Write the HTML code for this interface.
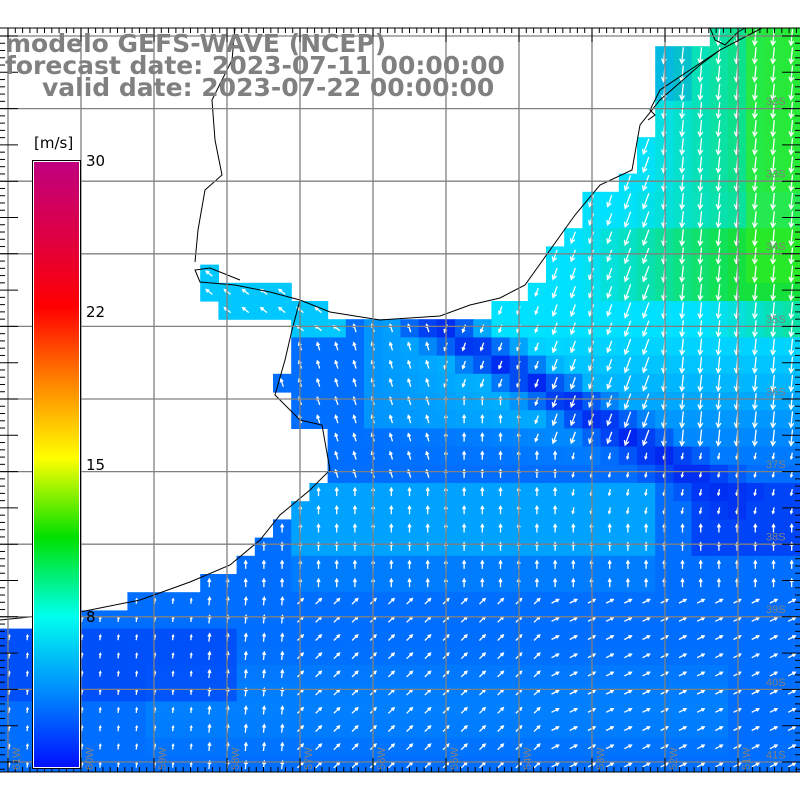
<!DOCTYPE html>
<html><head><meta charset="utf-8"><style>
body{margin:0;background:#fff;width:800px;height:800px;overflow:hidden;font-family:"Liberation Sans",sans-serif}
svg{position:absolute;left:0;top:0}
</style></head><body>
<svg id="s" width="800" height="800" viewBox="0 0 800 800"></svg>
<script>
const NS="http://www.w3.org/2000/svg",s=document.getElementById('s');
function el(t,a,p){const e=document.createElementNS(NS,t);for(const k in a)e.setAttribute(k,a[k]);(p||s).appendChild(e);return e}
const T=28,B=772,C=18.2;
const land=[[0,28],[710,28],[710,45],[660,45],[660,100],[655,100],[655,135],[637,135],[637,172],[620,172],[620,190],[585,190],[585,226],[565,226],[565,245],[545,245],[545,282],[528,282],[528,300],[495,300],[495,318],[330,318],[330,300],[300,300],[300,285],[220,285],[220,265],[200,265],[200,300],[220,300],[220,318],[290,318],[290,375],[275,375],[275,400],[290,400],[290,420],[325,420],[325,480],[310,480],[310,500],[295,500],[295,520],[265,520],[265,540],[255,540],[255,555],[235,555],[235,575],[200,575],[200,592],[130,592],[130,610],[80,610],[80,627],[0,627]];
function inPoly(x,y,p){let c=false;for(let i=0,j=p.length-1;i<p.length;j=i++){const a=p[i],b=p[j];if((a[1]>y)!=(b[1]>y)&&x<(b[0]-a[0])*(y-a[1])/(b[1]-a[1])+a[0])c=!c}return c}
function mix(a,b,t){t=Math.max(0,Math.min(1,t));return a.map((v,i)=>Math.round(v+(b[i]-v)*t))}
function sm(e0,e1,v){return Math.max(0,Math.min(1,(v-e0)/(e1-e0)))}
function col(x,y){
 let c=[0,110,255];
 if(y<335&&x<340)c=[0,200,255];
 if(x>370&&x<560&&y>320&&y<420)c=mix(c,[0,170,255],0.6);
 let t=sm(360,560,x)*sm(470,330,y);c=mix(c,[0,225,255],t);
 if(y<330&&x>480)c=mix(c,[0,225,255],1);
 if(y<100&&x<700)c=mix(c,[0,160,255],0.7);
 let g=0;
 if(y<190)g=sm(640,780,x)*0.85;
 else if(y<220)g=sm(620,760,x)*0.6;
 else if(y<300)g=sm(580,740,x);
 else if(y<340)g=sm(700,800,x)*0.5;
 c=mix(c,[20,225,60],g);
 if(x>755&&y<290)c=mix(c,[60,240,20],0.5);
 if(y>480&&y<560&&x>300&&x<660)c=mix(c,[0,175,255],0.8);
 if(y>560&&y<600&&x>300&&x<650)c=mix(c,[0,140,255],0.5);
 if(y>650&&y<760&&x>150&&x<720)c=mix(c,[0,145,255],0.5*Math.sin((y-650)/110*3.14));
 const ax=430,ay=322,bx=720,by=490;let dx=bx-ax,dy=by-ay,u=((x-ax)*dx+(y-ay)*dy)/(dx*dx+dy*dy);
 if(u>-0.05&&u<1.1){let px=ax+u*dx,py=ay+u*dy,d=Math.hypot(x-px,y-py);if(d<26)c=mix(c,[0,35,240],1-d/30);}
 if(x>690&&y>480&&y<560)c=mix(c,[0,50,245],0.7);
 if(x<230&&y>620&&y<700)c=mix(c,[0,60,245],0.6);
 return 'rgb('+c.join(',')+')';
}
const g=el('g',{});
for(let i=0;i*C<800;i++)for(let j=0;T+j*C<B;j++){
 const x=i*C,y=T+j*C,cx=x+C/2,cy=y+C/2;
 if(inPoly(cx,cy,land))continue;
 el('rect',{x:x,y:y,width:C+0.6,height:Math.min(C+0.6,B-y),fill:col(cx,cy)},g);
}
const ag=el('g',{stroke:'#fff','stroke-width':1.3,fill:'none'});
for(let i=0;i<44;i++)for(let j=0;j<41;j++){
 const cx=i*C+C/2,cy=T+j*C+C/2;if(cy>B-4)continue;
 if(inPoly(cx,cy,land))continue;
 let ang,len;
 if(cy<340&&cx<340){ang=-Math.PI/2-0.9;len=8;}
 else if(cy<300||(cy<440&&cx>520)||(cy<400&&cx>430)){ang=Math.PI/2+0.35-(cx>650?0.25:0);len=cx>620?16:(cx>540?12:8);}
 else if(cy<480&&cx<430){ang=-Math.PI/2-0.3;len=8;}
 else if(cy<520&&cx>560){ang=Math.PI/2+0.2;len=6;}
 else if(cy<600){ang=-Math.PI/2;len=8;}
 else{ang=-Math.PI/2+(cx>300?0.8:0.1)+(cx>550?0.3:0);len=cx<200?5:8;}
 const ex=cx+Math.cos(ang)*len/2,ey=cy+Math.sin(ang)*len/2,sx=cx-Math.cos(ang)*len/2,sy=cy-Math.sin(ang)*len/2;
 const h=Math.min(5,len*0.4);
 el('path',{d:`M${sx} ${sy}L${ex} ${ey}M${ex-h*Math.cos(ang-0.5)} ${ey-h*Math.sin(ang-0.5)}L${ex} ${ey}L${ex-h*Math.cos(ang+0.5)} ${ey-h*Math.sin(ang+0.5)}`},ag);
}
const cs={fill:'none',stroke:'#000','stroke-width':1};
el('polyline',Object.assign({points:'762,28 720,50 700,65 660,100 640,125 632,170 600,185 575,215 550,250 525,285 500,298 470,305 440,316 380,320 330,312 300,300 270,292 235,285 200,282 195,270 210,268 240,280'},cs));
el('polyline',Object.assign({points:'300,300 292,330 285,360 275,395 300,420 322,425 330,470 310,490 280,515 260,540 230,565 190,582 140,600 80,612 0,620'},cs));
el('polyline',Object.assign({points:'235,28 232,60 212,100 215,140 222,175 205,190 198,230 195,262'},cs));
el('polyline',Object.assign({points:'710,28 715,40 725,45 738,32 745,28'},cs));
el('polyline',Object.assign({points:'720,50 660,90 650,110 655,115 648,120'},cs));
const gg=el('g',{stroke:'#808080','stroke-width':1.3});
for(let k=0;k<11;k++){const x=8+k*73;el('line',{x1:x,y1:T,x2:x,y2:B},gg)}
for(let k=0;k<11;k++){const y=36+k*72.6;if(y<B)el('line',{x1:0,y1:y,x2:800,y2:y},gg)}
const tk=el('g',{stroke:'#000','stroke-width':1});
el('line',{x1:0,y1:T,x2:800,y2:T},tk);el('line',{x1:0,y1:B,x2:800,y2:B},tk);
for(let k=0;8+k*7.3<800;k++){const x=8+k*7.3,big=k%10==0;el('line',{x1:x,y1:T,x2:x,y2:T+(big?14:5)},tk);el('line',{x1:x,y1:B,x2:x,y2:B-(big?14:5)},tk)}
for(let k=0;36+k*7.26<B;k++){const y=36+k*7.26,big=k%5==0;el('line',{x1:0,y1:y,x2:big?18:5,y2:y},tk);el('line',{x1:800,y1:y,x2:big?782:795,y2:y},tk)}
const lab=el('g',{fill:'#808080','font-size':11,'font-family':'Liberation Sans, sans-serif'});
['32S','33S','34S','35S','36S','37S','38S','39S','40S','41S'].forEach((t,k)=>{const e=el('text',{x:766,y:105+k*72.6},lab);e.textContent=t});
['61W','60W','59W','58W','57W','56W','55W','54W','53W','52W','51W'].forEach((t,k)=>{const x=20+k*73;const e=el('text',{x:0,y:0,transform:`translate(${x},770) rotate(-90)`},lab);e.textContent=t});
const d=el('defs',{});const lg=el('linearGradient',{id:'cb',x1:0,y1:0,x2:0,y2:1},d);
[[0,'#c0007f'],[0.13,'#e00040'],[0.24,'#ff0000'],[0.36,'#ff8000'],[0.49,'#ffff00'],[0.62,'#00e000'],[0.75,'#00ffee'],[0.87,'#0090ff'],[1,'#0010ff']].forEach(a=>el('stop',{offset:a[0],'stop-color':a[1]},lg));
el('rect',{x:32.5,y:160.5,width:48,height:608,fill:'#fff',stroke:'#000'});
el('rect',{x:34,y:162,width:45,height:605,fill:'url(#cb)'});
const cl=el('g',{fill:'#000','font-size':15,'font-family':'DejaVu Sans, sans-serif'});
[['[m/s]',34,148],['30',86,166],['22',86,317],['15',86,470],['8',86,622]].forEach(a=>{const e=el('text',{x:a[1],y:a[2]},cl);e.textContent=a[0]});
const tt=el('g',{fill:'#808080','font-size':25,'font-weight':'bold','font-family':'DejaVu Sans, sans-serif'});
[['modelo GEFS-WAVE (NCEP)',5,52],['forecast date: 2023-07-11 00:00:00',5,74],['valid date: 2023-07-22 00:00:00',42,96]].forEach(a=>{const e=el('text',{x:a[1],y:a[2]},tt);e.textContent=a[0]});
</script>
</body></html>
